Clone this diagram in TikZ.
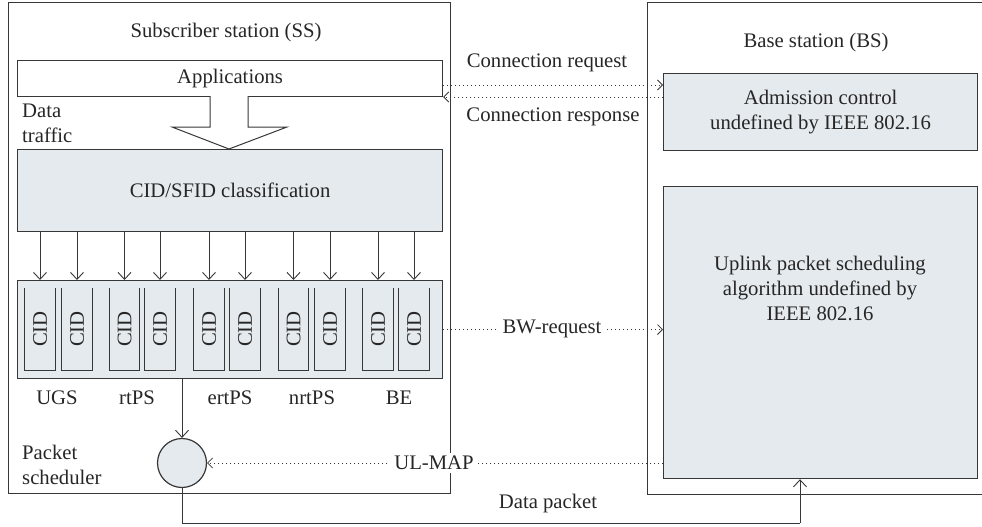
\documentclass[tikz,border=0pt]{standalone}
\usepackage{fontspec}
\setmainfont{Liberation Serif}
\usetikzlibrary{arrows.meta,calc}
\definecolor{lc}{RGB}{55,55,55}
\definecolor{bf}{RGB}{229,234,238}
\begin{document}
\begin{tikzpicture}[x=1pt,y=-1pt,
  every node/.style={font=\fontsize{20.7}{25}\selectfont, text=black!85},
  box/.style={draw=lc, line width=1.2pt, inner sep=0pt, anchor=north west},
  gbox/.style={box, fill=bf},
  txt/.style={inner sep=0pt, align=center},
  ln/.style={draw=lc, line width=1pt},
  arr/.style={ln, -{Straight Barb[length=7pt,width=13pt,line width=0.9pt]}},
  dot/.style={ln, line width=1pt, dash pattern=on 1pt off 3pt, -{Straight Barb[length=5pt,width=10pt,line width=0.8pt]}},
  qbox/.style={inner sep=0pt, minimum width=30pt, minimum height=82pt},
]
\useasboundingbox (0,0) rectangle (982,527);
% stations
\node[box, minimum width=442pt, minimum height=491pt] (ss) at (8,2) {};
\node[box, minimum width=360pt, minimum height=492pt] (bs) at (647,2) {};
\node[txt] (sslab) at (226,33) {Subscriber station (SS)};
\node[txt] (bslab) at (816,43) {Base station (BS)};
% SS internals
\node[box, minimum width=425pt, minimum height=36pt] (app) at (17,60) {};
\node[txt] at (app.center) {Applications};
\node[gbox, minimum width=425pt, minimum height=82pt] (cls) at (17,149) {};
\node[txt] at (cls.center) {CID/SFID classification};
\node[gbox, minimum width=425pt, minimum height=98pt] (cont) at (17,280) {};
\node[txt, align=left, anchor=west] (dt) at (22,123) {Data\\traffic};
% hollow arrow
\coordinate (ha) at (229,96);
\filldraw[ln, fill=white, line join=miter] ($(ha)+(-19,0)$) -- ++(0,31) -- ++(-38,0) -- (229,149) -- ++(58,-22) -- ++(-39,0) -- ++(0,-31);
% queues
\foreach \i/\x in {1/40,2/77,3/124.5,4/160,5/209,6/245,7/293.5,8/330,9/378,10/414}{
  \node[qbox] (q\i) at (\x,329) {\rotatebox{90}{CID}};
  \draw[ln] (q\i.north west) -- (q\i.south west) -- (q\i.south east) -- (q\i.north east);
  \draw[arr] (cls.south -| q\i) -- (cont.north -| q\i);
}
\foreach \t/\x in {UGS/57,rtPS/137,ertPS/230,nrtPS/312,BE/399}{
  \node[txt] at (\x,398) {\t};
}
% packet scheduler
\node[draw=lc, line width=1.2pt, fill=bf, circle, minimum size=49pt, inner sep=0pt] (ps) at (182,463) {};
\node[txt, align=left, anchor=west] (pslab) at (22,465) {Packet\\scheduler};
\draw[arr] (cont.south -| ps) -- (ps.north);
% BS internals
\node[gbox, minimum width=314pt, minimum height=77pt] (adm) at (663,73) {};
\node[txt] at (adm.center) {Admission control\\undefined by IEEE 802.16};
\node[gbox, minimum width=314pt, minimum height=292pt] (ul) at (663,186) {};
\node[txt] at (820,288) {Uplink packet scheduling\\algorithm undefined by\\IEEE 802.16};
% signalling
\draw[dot] (app.east |- 0,85) -- (adm.west |- 0,85);
\draw[dot] (adm.west |- 0,97) -- (app.east |- 0,97);
\node[txt] (creq) at (547,63) {Connection request};
\node[txt] (cres) at (553,117) {Connection response};
\draw[dot] (cont.east) -- (ul.west |- cont.east);
\node[txt, fill=white, inner xsep=4pt] (bw) at (552,329) {BW-request};
\draw[dot] (ul.west |- ps) -- (ps.east);
\node[txt, fill=white, inner xsep=4pt, inner ysep=3pt] (ulmap) at (434,463) {UL-MAP};
% data packet
\coordinate (c1) at (182,523);
\coordinate (c2) at (800,523);
\draw[ln] (ps.south) -- (c1) -- (c2);
\draw[arr] (c2) -- (ul.south -| c2);
\node[txt] (dp) at (548,504) {Data packet};
\end{tikzpicture}
\end{document}
